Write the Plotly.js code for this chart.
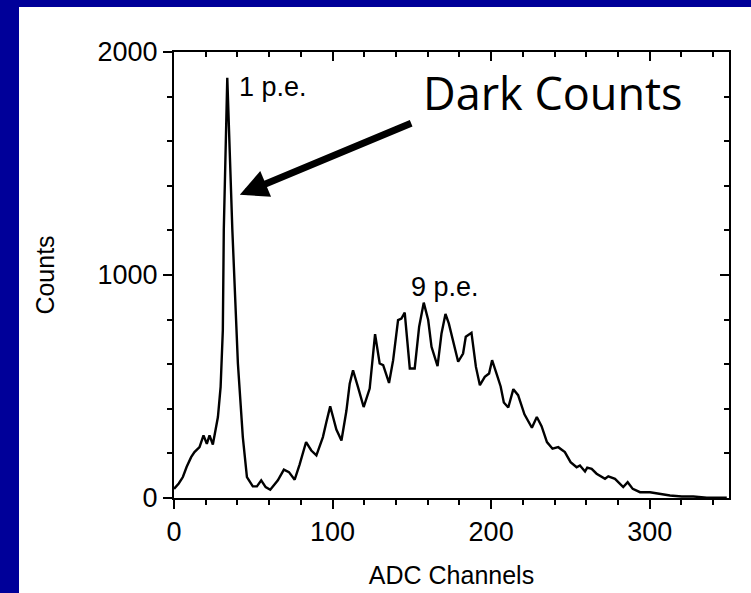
<!DOCTYPE html>
<html><head><meta charset="utf-8">
<script src="https://cdn.plot.ly/plotly-3.0.1.min.js"></script>
<style>
html,body{margin:0;padding:0;background:#000099;overflow:hidden;width:751px;height:593px}
#frame{position:absolute;left:19px;top:7px;width:732px;height:586px;background:#ffffff}
#chart{width:732px;height:586px}
</style></head>
<body><div id="frame"><div id="chart"></div></div>
<script>
// ADC channel (x) and counts (y)
const channels = [0, 3, 5.6, 8, 10.8, 12.9, 16.1, 18.6, 20.7, 22.4, 24.5, 27.7, 29.4, 30.8, 31.4, 33.6, 36.8, 38.5, 40.3, 43.4, 46, 49.7, 52.3, 55, 57.8, 60.7, 65.5, 69.3, 72.5, 76.1, 79.2, 83.3, 86.6, 89.8, 93.9, 96.1, 98.5, 100.3, 102.4, 105.6, 108.7, 110.8, 112.9, 116, 119.6, 123.4, 126.8, 129.7, 131.9, 135.6, 138.2, 141.3, 143.4, 145.5, 148.7, 151.8, 154.6, 157.5, 160.3, 162.4, 166.2, 168.7, 171.2, 173.3, 176.5, 179.2, 182.3, 184, 187.6, 190.4, 192.9, 196, 198.7, 200.6, 203.4, 206, 208, 210.8, 214, 217, 221, 225.7, 228.8, 231.8, 235.2, 238.7, 242.3, 246.5, 250.1, 253.9, 256, 259.2, 260.6, 263.4, 266.5, 271.8, 273.9, 278.1, 283.3, 286.1, 289.3, 293.9, 300.2, 306.5, 312.8, 320.2, 327.5, 336, 348.6];
const counts = [41, 65, 94, 140, 183, 206, 228, 281, 243, 281, 240, 363, 498, 753, 1202, 1884, 1202, 900, 603, 273, 94, 52, 52, 79, 49, 37, 79, 127, 116, 82, 150, 251, 213, 191, 273, 341, 411, 363, 307, 258, 390, 513, 573, 498, 408, 491, 735, 603, 596, 516, 618, 798, 805, 831, 581, 581, 768, 876, 798, 678, 591, 738, 825, 783, 693, 611, 648, 723, 741, 588, 506, 543, 558, 618, 558, 500, 428, 406, 488, 461, 375, 315, 363, 322, 251, 221, 228, 206, 161, 138, 146, 119, 136, 131, 109, 86, 97, 86, 49, 71, 41, 26, 26, 19, 11, 7, 7, 1, 1];

const xRange = [0, 350];
const yRange = [0, 2000];
const xTicks = [0, 100, 200, 300];
const yTicks = [0, 1000, 2000];
const xTitle = 'ADC Channels';
const yTitle = 'Counts';
const labels = [
  {text: '1 p.e.', x: 40.0, y: 1845, xanchor: 'left'},
  {text: '9 p.e.', x: 170.8, y: 948, xanchor: 'center'},
  {text: 'Dark Counts', x: 239, y: 1818, xanchor: 'center'}
];
const arrowHead = [41.5, 1360];
const arrowTail = [150.5, 1683];

const arial = 'Arial, Liberation Sans, sans-serif';
const tickFont = {family: arial, size: 27, color: '#000'};
const axisCommon = {
  showgrid: false, zeroline: false, showline: true, linecolor: '#000', linewidth: 2,
  tickcolor: '#000', tickwidth: 2, ticklen: 9, tickfont: tickFont, fixedrange: true
};

const traces = [
  {x: channels, y: counts, type: 'scatter', mode: 'lines',
   line: {color: '#000', width: 2.4}, hoverinfo: 'skip'},
  // invisible helpers so the mirrored top / right axes get drawn
  {x: xRange, y: yRange, xaxis: 'x2', yaxis: 'y', type: 'scatter', mode: 'markers',
   marker: {size: 1, opacity: 0}, hoverinfo: 'skip'},
  {x: xRange, y: yRange, xaxis: 'x', yaxis: 'y2', type: 'scatter', mode: 'markers',
   marker: {size: 1, opacity: 0}, hoverinfo: 'skip'}
];

const layout = {
  width: 732, height: 586,
  margin: {l: 155, r: 22, t: 45, b: 95},
  paper_bgcolor: '#ffffff', plot_bgcolor: '#ffffff',
  showlegend: false,
  xaxis: Object.assign({}, axisCommon, {
    range: xRange, tickvals: xTicks, ticks: 'outside',
    minor: {dtick: 20, tick0: 0, ticks: 'outside', ticklen: 5, tickwidth: 2, tickcolor: '#000'},
    title: {text: xTitle, font: {family: arial, size: 25, color: '#000'}, standoff: 20}
  }),
  yaxis: Object.assign({}, axisCommon, {
    range: yRange, tickvals: yTicks, ticks: 'outside',
    minor: {dtick: 200, tick0: 0, ticks: 'outside', ticklen: 5, tickwidth: 2, tickcolor: '#000'},
    title: {text: yTitle, font: {family: arial, size: 25, color: '#000'}, standoff: 36}
  }),
  xaxis2: Object.assign({}, axisCommon, {
    range: xRange, tickvals: xTicks, ticks: 'inside', overlaying: 'x', side: 'top', anchor: 'y',
    showticklabels: false,
    minor: {dtick: 20, tick0: 0, ticks: 'inside', ticklen: 5, tickwidth: 2, tickcolor: '#000'}
  }),
  yaxis2: Object.assign({}, axisCommon, {
    range: yRange, tickvals: yTicks, ticks: 'inside', overlaying: 'y', side: 'right', anchor: 'x',
    showticklabels: false,
    minor: {dtick: 200, tick0: 0, ticks: 'inside', ticklen: 5, tickwidth: 2, tickcolor: '#000'}
  }),
  annotations: [
    {x: labels[0].x, y: labels[0].y, xref: 'x', yref: 'y', text: labels[0].text, showarrow: false,
     xanchor: labels[0].xanchor, yanchor: 'middle', font: {family: arial, size: 27, color: '#000'}},
    {x: labels[1].x, y: labels[1].y, xref: 'x', yref: 'y', text: labels[1].text, showarrow: false,
     xanchor: labels[1].xanchor, yanchor: 'middle', font: {family: arial, size: 27, color: '#000'}},
    {x: labels[2].x, y: labels[2].y, xref: 'x', yref: 'y', text: labels[2].text, showarrow: false,
     xanchor: labels[2].xanchor, yanchor: 'middle', font: {family: 'Open Sans, DejaVu Sans, sans-serif', size: 45, color: '#000'}},
    {x: arrowHead[0], y: arrowHead[1], ax: arrowTail[0], ay: arrowTail[1], xref: 'x', yref: 'y', axref: 'x', ayref: 'y',
     text: '', showarrow: true, arrowhead: 2, arrowsize: 0.8, arrowwidth: 7, arrowcolor: '#000'}
  ]
};

Plotly.newPlot('chart', traces, layout, {staticPlot: true, displayModeBar: false});
</script>
</body></html>
